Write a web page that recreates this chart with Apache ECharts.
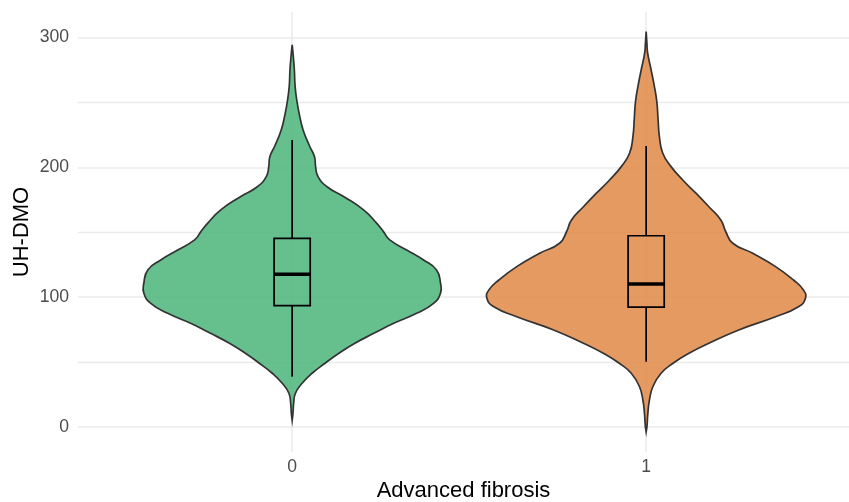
<!DOCTYPE html>
<html>
<head>
<meta charset="utf-8">
<script src="https://cdn.jsdelivr.net/npm/echarts@6/dist/echarts.min.js"></script>
<style>
html,body{margin:0;padding:0;background:#fff;}
#chart{width:849px;height:502px;}
</style>
</head>
<body>
<div id="chart"></div>
<script>
// ---- data ----
var categories = ["0", "1"];
var yTicks = [0, 100, 200, 300];
var yMinorTicks = [50, 150, 250];

// violin outlines: y values and relative density (same units for both groups)
var violin0Y = [5, 10, 18, 25.8, 33.5, 41.2, 48.9, 56.6, 64.3, 72, 79.7, 87.4, 95.1, 102.9, 110.6, 120.8, 128.5, 136.2, 144, 150, 156.8, 167, 177.3, 185, 192.8, 200.5, 208, 216, 228.7, 241.6, 250, 262, 275, 285, 294.3];
var violin0D = [0, 0.8, 1.5, 3.3, 10, 20, 33, 47, 63, 82, 102, 125, 142, 149, 149, 145, 132, 115, 98, 92, 85, 72, 52, 35, 26, 23.5, 22.5, 17.7, 11, 7, 5, 3, 2.2, 1.2, 0];
var violin1Y = [-3.9, 0, 10.3, 20.6, 30.8, 41.2, 48.9, 56.6, 64.3, 74.6, 84.8, 92.5, 99, 105.4, 113.1, 123.4, 133.7, 141.4, 150.3, 159.4, 169.6, 180, 190.2, 200.5, 210.8, 223.6, 236.5, 250.6, 262.1, 275, 287.9, 295, 304.6];
var violin1D = [0, 0.8, 1.7, 3.3, 6.7, 15, 27, 43, 63, 93, 130, 153, 160, 158, 148, 130, 107, 87, 80, 75, 63, 50, 36.7, 25, 16.7, 13.3, 12, 10.7, 8.3, 5, 1.5, 0.8, 0];

// box statistics per category
var whiskerLow = [38.6, 50.1];
var q1 = [93.3, 92.2];
var median = [117.5, 110];
var q3 = [145.2, 147.2];
var whiskerHigh = [221, 216.4];

var fillColors = ["rgba(75,181,122,0.85)", "rgba(224,136,70,0.85)"];

// ---- chart ----
var violinY = [violin0Y, violin1Y];
var violinD = [violin0D, violin1D];
var maxD = Math.max(Math.max.apply(null, violin0D), Math.max.apply(null, violin1D));
var halfWidthMax = 0.45;
var boxHalf = 0.051;

var chart = echarts.init(document.getElementById('chart'), null, {renderer: 'canvas'});
var font = '"Liberation Sans", Arial, sans-serif';

var gridLines = [];
yTicks.forEach(function (v) { gridLines.push({yAxis: v, lineStyle: {color: '#ebebeb', width: 1.6, type: 'solid'}}); });
yMinorTicks.forEach(function (v) { gridLines.push({yAxis: v, lineStyle: {color: '#ebebeb', width: 1.3, type: 'solid'}}); });
categories.forEach(function (c, i) { gridLines.push({xAxis: i, lineStyle: {color: '#ebebeb', width: 1.6, type: 'solid'}}); });

chart.setOption({
  animation: false,
  backgroundColor: '#ffffff',
  grid: {left: 78, right: 0, top: 12, bottom: 50, containLabel: false, outerBoundsMode: 'none'},
  xAxis: {
    type: 'value', min: -0.605, max: 1.573,
    name: 'Advanced fibrosis', nameLocation: 'middle', nameGap: 28, nameMoveOverlap: false,
    nameTextStyle: {fontFamily: font, fontSize: 22, color: '#000'},
    axisLine: {show: false}, axisTick: {show: false}, splitLine: {show: false},
    axisLabel: {
      customValues: categories.map(function (c, i) { return i; }),
      formatter: function (v) { return categories[Math.round(v)]; },
      fontFamily: font, fontSize: 17.6, color: '#4d4d4d', margin: 6
    }
  },
  yAxis: {
    type: 'value', min: -19.5, max: 319.7,
    name: 'UH-DMO', nameLocation: 'middle', nameGap: 45, nameMoveOverlap: false,
    nameTextStyle: {fontFamily: font, fontSize: 22, color: '#000'},
    axisLine: {show: false}, axisTick: {show: false}, splitLine: {show: false},
    axisLabel: {
      customValues: yTicks,
      formatter: function (v) { return String(v); },
      fontFamily: font, fontSize: 17.6, color: '#4d4d4d', margin: 9
    }
  },
  series: [
    {
      type: 'line', data: [], z: 0, silent: true,
      markLine: {silent: true, symbol: ['none', 'none'], z: 0, label: {show: false}, animation: false, data: gridLines}
    },
    {
      type: 'custom', z: 2, silent: true, clip: false,
      data: categories.map(function (c, i) { return [i]; }),
      renderItem: function (params, api) {
        var i = params.dataIndex;
        var ys = violinY[i], ds = violinD[i];
        var pts = [];
        for (var j = 0; j < ys.length; j++) {
          pts.push(api.coord([i + ds[j] / maxD * halfWidthMax, ys[j]]));
        }
        for (var k = ys.length - 1; k >= 0; k--) {
          pts.push(api.coord([i - ds[k] / maxD * halfWidthMax, ys[k]]));
        }
        return {
          type: 'polygon',
          shape: {points: pts, smooth: 0.5},
          style: {fill: fillColors[i], stroke: '#333333', lineWidth: 1.7}
        };
      }
    },
    {
      type: 'custom', z: 3, silent: true, clip: false,
      data: categories.map(function (c, i) { return [i]; }),
      renderItem: function (params, api) {
        var i = params.dataIndex;
        var pLowW = api.coord([i, whiskerLow[i]]);
        var pHighW = api.coord([i, whiskerHigh[i]]);
        var pQ1 = api.coord([i, q1[i]]);
        var pQ3 = api.coord([i, q3[i]]);
        var tl = api.coord([i - boxHalf, q3[i]]);
        var br = api.coord([i + boxHalf, q1[i]]);
        var ml = api.coord([i - boxHalf, median[i]]);
        var mr = api.coord([i + boxHalf, median[i]]);
        var st = {stroke: '#000', lineWidth: 1.7, fill: null};
        return {
          type: 'group',
          children: [
            {type: 'line', shape: {x1: pHighW[0], y1: pHighW[1], x2: pQ3[0], y2: pQ3[1]}, style: st},
            {type: 'line', shape: {x1: pQ1[0], y1: pQ1[1], x2: pLowW[0], y2: pLowW[1]}, style: st},
            {type: 'rect', shape: {x: tl[0], y: tl[1], width: br[0] - tl[0], height: br[1] - tl[1]}, style: {stroke: '#000', lineWidth: 1.7, fill: 'none'}},
            {type: 'line', shape: {x1: ml[0], y1: ml[1], x2: mr[0], y2: mr[1]}, style: {stroke: '#000', lineWidth: 3.6}}
          ]
        };
      }
    }
  ]
});
</script>
</body>
</html>
